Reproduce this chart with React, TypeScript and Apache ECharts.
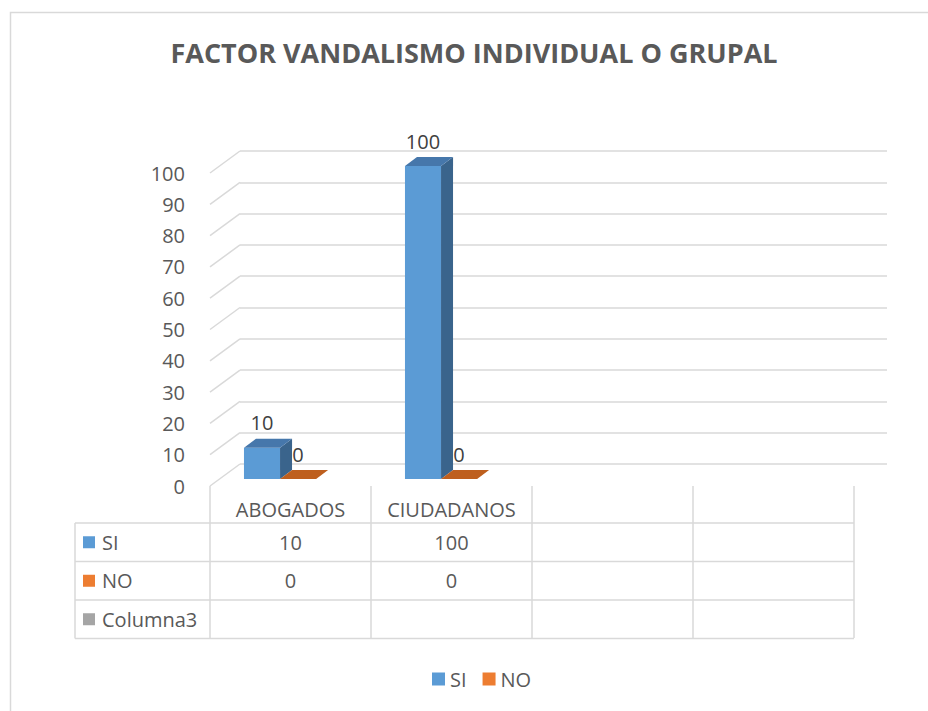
import { useEffect, useRef } from "react";
import * as echarts from "echarts";

// ---- data ----
const categories = ["ABOGADOS", "CIUDADANOS", "", ""];
const siValues: (number | null)[] = [10, 100, null, null];
const noValues: (number | null)[] = [0, 0, null, null];
const columna3Values: (number | null)[] = [null, null, null, null];
const tableRows = ["SI", "NO", "Columna3"];
const yTickValues = [0, 10, 20, 30, 40, 50, 60, 70, 80, 90, 100];
const titleText = "FACTOR VANDALISMO INDIVIDUAL O GRUPAL";

// ---- styles ----
const FONT = "'Open Sans', 'Noto Sans', sans-serif";
const FS = 20;
const TEXT = "#595959";
const LABEL = "#404040";
const GRID = "#d9d9d9";
const SI_COLORS = { front: "#5B9BD5", top: "#4677AB", side: "#3A648C" };
const NO_COLORS = { front: "#ED7D31", top: "#BE5F1E", side: "#A8521A" };
const ROW_MARKERS = ["#5B9BD5", "#ED7D31", "#A5A5A5"];

const DEPTH_DX = 30;
const DEPTH_DY = 22;
const BAR_DX = 12;
const BAR_DY = 9;
const BAR_LIFT = 7;
const BAR_W = 0.224;

function barRenderer(offsetFrac: number, colors: { front: string; top: string; side: string }) {
  return (params: any, api: any) => {
    const idx = api.value(0);
    const v = api.value(1);
    const base = api.coord([idx, 0]);
    const top = api.coord([idx, v]);
    const bw = api.size([1, 0])[0];
    const w = BAR_W * bw;
    const left = base[0] + offsetFrac * bw;
    const y0 = base[1] - BAR_LIFT;
    const y1 = top[1] - BAR_LIFT;
    const children: any[] = [];
    if (y0 - y1 > 0.5) {
      children.push({
        type: "rect",
        shape: { x: left, y: y1, width: w, height: y0 - y1 },
        style: { fill: colors.front },
      });
      children.push({
        type: "polygon",
        shape: {
          points: [
            [left + w, y0],
            [left + w + BAR_DX, y0 - BAR_DY],
            [left + w + BAR_DX, y1 - BAR_DY],
            [left + w, y1],
          ],
        },
        style: { fill: colors.side },
      });
    }
    children.push({
      type: "polygon",
      shape: {
        points: [
          [left, y1],
          [left + w, y1],
          [left + w + BAR_DX, y1 - BAR_DY],
          [left + BAR_DX, y1 - BAR_DY],
        ],
      },
      style: { fill: colors.top },
    });
    children.push({
      type: "text",
      style: {
        x: left + w / 2,
        y: y1 - 15,
        text: String(v),
        align: "center",
        verticalAlign: "bottom",
        fill: LABEL,
        font: `${FS}px ${FONT}`,
      },
    });
    return { type: "group", children };
  };
}

function toData(values: (number | null)[]) {
  return values
    .map((v, i) => (v == null ? null : [i, v]))
    .filter((d) => d != null) as number[][];
}

export default function App() {
  const ref = useRef<HTMLDivElement>(null);

  useEffect(() => {
    if (!ref.current) return;
    const chart = echarts.init(ref.current, undefined, { renderer: "svg" });

    const ROW_TOP = 37;
    const ROW_H = 38.5;
    const rowValues = [siValues, noValues, columna3Values];

    const option: any = {
      animation: false,
      backgroundColor: "#ffffff",
      textStyle: { fontFamily: FONT },
      graphic: [
        {
          type: "rect",
          shape: { x: 10.5, y: 12.5, width: 940, height: 720 },
          style: { fill: "none", stroke: GRID, lineWidth: 1.5 },
          silent: true,
        },
        {
          type: "text",
          x: 474,
          y: 52,
          style: {
            text: titleText,
            align: "center",
            verticalAlign: "middle",
            fill: TEXT,
            font: `bold 27px ${FONT}`,
          },
        },
      ],
      legend: {
        data: ["SI", "NO"],
        left: 427,
        top: 664,
        itemWidth: 13,
        itemHeight: 13,
        itemGap: 16,
        icon: "rect",
        textStyle: { fontSize: FS, color: TEXT, fontFamily: FONT },
      },
      grid: [
        // back wall
        { left: 240, right: 41, top: 151, height: 313 },
        // front plane
        { left: 210, width: 644, top: 173, height: 313 },
      ],
      xAxis: [
        {
          gridIndex: 0,
          type: "category",
          data: categories,
          show: false,
        },
        {
          gridIndex: 1,
          type: "category",
          data: categories,
          axisLine: { show: false },
          axisTick: {
            show: true,
            interval: 0,
            length: 152,
            lineStyle: { color: GRID, width: 1.5 },
          },
          axisLabel: {
            interval: 0,
            margin: 13,
            fontSize: FS,
            color: TEXT,
            fontFamily: FONT,
          },
        },
      ],
      yAxis: [
        {
          gridIndex: 0,
          type: "value",
          min: 0,
          max: 100,
          interval: 10,
          axisLine: { show: false },
          axisTick: { show: false },
          axisLabel: { show: false },
          splitLine: { show: true, lineStyle: { color: GRID, width: 1.5 } },
        },
        {
          gridIndex: 1,
          type: "value",
          min: 0,
          max: 100,
          interval: 10,
          axisLine: { show: false },
          axisTick: { show: false },
          splitLine: { show: false },
          axisLabel: {
            margin: 25,
            fontSize: FS,
            color: TEXT,
            fontFamily: FONT,
            padding: [6, 0, 0, 0],
          },
        },
      ],
      series: [
        {
          name: "walls",
          type: "custom",
          xAxisIndex: 1,
          yAxisIndex: 1,
          silent: true,
          data: yTickValues.map((t) => [0, t]),
          renderItem: (params: any, api: any) => {
            const p = api.coord([0, api.value(1)]);
            const x0 = params.coordSys.x;
            return {
              type: "line",
              shape: { x1: x0, y1: p[1], x2: x0 + DEPTH_DX, y2: p[1] - DEPTH_DY },
              style: { stroke: GRID, lineWidth: 1.5 },
            };
          },
        },
        {
          name: "SI",
          type: "custom",
          xAxisIndex: 1,
          yAxisIndex: 1,
          itemStyle: { color: SI_COLORS.front },
          data: toData(siValues),
          renderItem: barRenderer(-0.289, SI_COLORS),
        },
        {
          name: "NO",
          type: "custom",
          xAxisIndex: 1,
          yAxisIndex: 1,
          itemStyle: { color: NO_COLORS.front },
          data: toData(noValues),
          renderItem: barRenderer(-0.289 + BAR_W, NO_COLORS),
        },
        {
          name: "table",
          type: "custom",
          xAxisIndex: 1,
          yAxisIndex: 1,
          silent: true,
          data: categories.map((_, i) => [i, 0]),
          renderItem: (params: any, api: any) => {
            const i = api.value(0);
            const base = api.coord([i, 0]);
            const bw = api.size([1, 0])[0];
            const bandL = base[0] - bw / 2;
            const bandR = base[0] + bw / 2;
            const children: any[] = [];
            for (let k = 0; k <= tableRows.length; k++) {
              const y = base[1] + ROW_TOP + k * ROW_H;
              children.push({
                type: "line",
                shape: { x1: bandL, y1: y, x2: bandR, y2: y },
                style: { stroke: GRID, lineWidth: 1.5 },
              });
            }
            rowValues.forEach((vals, k) => {
              const v = vals[i];
              if (v == null) return;
              children.push({
                type: "text",
                style: {
                  x: base[0],
                  y: base[1] + ROW_TOP + k * ROW_H + ROW_H / 2,
                  text: String(v),
                  align: "center",
                  verticalAlign: "middle",
                  fill: TEXT,
                  font: `${FS}px ${FONT}`,
                },
              });
            });
            if (i === 0) {
              const hl = bandL - 135;
              children.push({
                type: "line",
                shape: {
                  x1: hl,
                  y1: base[1] + ROW_TOP,
                  x2: hl,
                  y2: base[1] + ROW_TOP + tableRows.length * ROW_H,
                },
                style: { stroke: GRID, lineWidth: 1.5 },
              });
              for (let k = 0; k <= tableRows.length; k++) {
                const y = base[1] + ROW_TOP + k * ROW_H;
                children.push({
                  type: "line",
                  shape: { x1: hl, y1: y, x2: bandL, y2: y },
                  style: { stroke: GRID, lineWidth: 1.5 },
                });
              }
              tableRows.forEach((name, k) => {
                const cy = base[1] + ROW_TOP + k * ROW_H + ROW_H / 2;
                children.push({
                  type: "rect",
                  shape: { x: hl + 8, y: cy - 6, width: 12, height: 12 },
                  style: { fill: ROW_MARKERS[k] },
                });
                children.push({
                  type: "text",
                  style: {
                    x: hl + 27,
                    y: cy,
                    text: name,
                    align: "left",
                    verticalAlign: "middle",
                    fill: TEXT,
                    font: `${FS}px ${FONT}`,
                  },
                });
              });
            }
            return { type: "group", children };
          },
        },
      ],
    };

    chart.setOption(option);
    return () => chart.dispose();
  }, []);

  return (
    <div
      ref={ref}
      style={{ position: "absolute", left: 0, top: 0, width: 928, height: 711 }}
    />
  );
}
